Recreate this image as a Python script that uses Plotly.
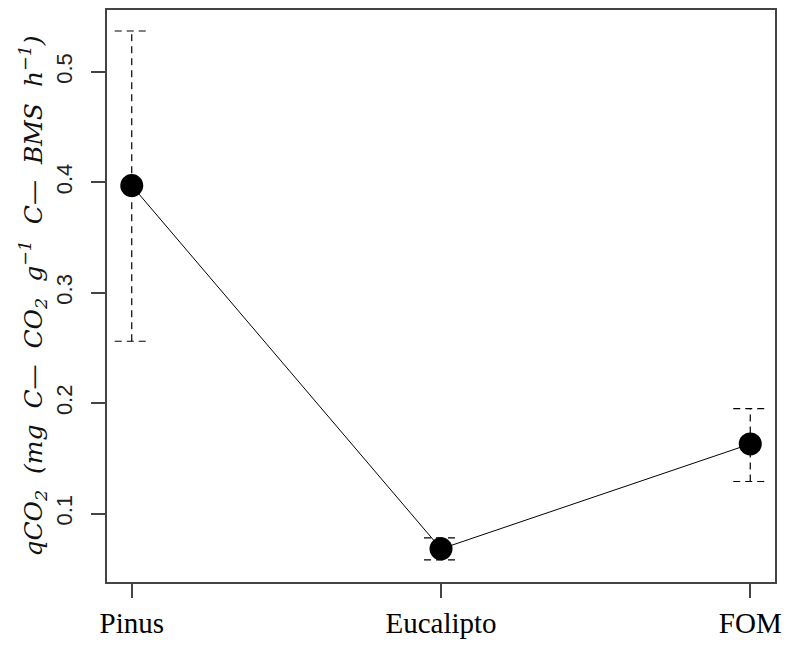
import plotly.graph_objects as go

# Soil metabolic quotient by land use
categories = ["Pinus", "Eucalipto", "FOM"]
mean_qco2 = [0.397, 0.068, 0.163]
lower_qco2 = [0.256, 0.058, 0.129]
upper_qco2 = [0.537, 0.078, 0.195]

xpos = list(range(1, len(categories) + 1))
cap_half = 0.055
dash_style = "7px,5px"

# dashed error bars: vertical segment plus top and bottom caps
ex, ey = [], []
for x, lo, hi in zip(xpos, lower_qco2, upper_qco2):
    ex += [x, x, None, x - cap_half, x + cap_half, None, x - cap_half, x + cap_half, None]
    ey += [lo, hi, None, hi, hi, None, lo, lo, None]

fig = go.Figure()
fig.add_trace(go.Scatter(
    x=ex, y=ey, mode="lines",
    line=dict(color="black", width=1.2, dash=dash_style),
    hoverinfo="skip", showlegend=False,
))
fig.add_trace(go.Scatter(
    x=xpos, y=mean_qco2, mode="lines+markers",
    line=dict(color="black", width=1),
    marker=dict(color="black", size=23),
    showlegend=False,
))

axis_common = dict(
    showline=True, linecolor="#444", linewidth=1.5, mirror=True,
    showgrid=False, zeroline=False,
    ticks="outside", ticklen=14, tickwidth=1.5, tickcolor="#444",
)

fig.update_xaxes(
    range=[0.92, 3.08],
    tickvals=xpos, ticktext=categories,
    tickfont=dict(family="Liberation Serif", size=29, color="black"),
    **axis_common,
)

# math-style wide spacing between the terms of the unit
sp = "&nbsp;&nbsp;"
y_title = (f"<i>qCO<sub>2</sub>{sp}(mg{sp}C—{sp}CO<sub>2</sub>{sp}g<sup>−1</sup>{sp}"
           f"C—{sp}BMS{sp}h<sup>−1</sup>)</i>")

fig.update_yaxes(
    range=[0.038, 0.556],
    tickvals=[0.1, 0.2, 0.3, 0.4, 0.5],
    ticktext=["0.1", "0.2", "0.3", "0.4", "0.5"],
    tickangle=-90,
    ticklabelstandoff=10,
    tickfont=dict(family="Liberation Sans", size=22, color="#222"),
    title=dict(
        text=y_title,
        font=dict(family="DejaVu Serif", size=25, color="#111"),
        standoff=3,
    ),
    **axis_common,
)

fig.update_layout(
    width=788, height=646,
    margin=dict(l=107, r=7, t=10, b=51),
    paper_bgcolor="white", plot_bgcolor="white",
)

fig.write_html("out.html")
